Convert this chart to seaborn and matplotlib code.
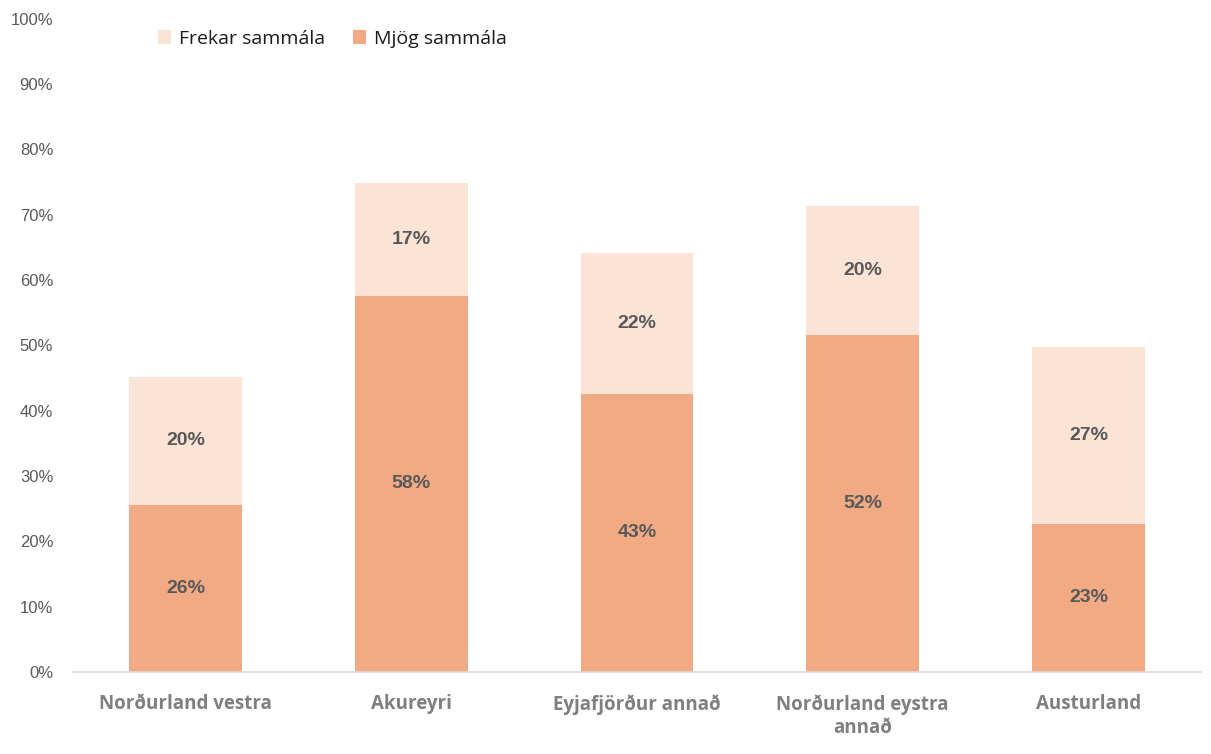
import pandas as pd
import matplotlib.pyplot as plt
import seaborn as sns

regions = ['Norðurland vestra', 'Akureyri', 'Eyjafjörður annað',
           'Norðurland eystra\nannað', 'Austurland']
mjog = [25.6, 57.6, 42.6, 51.6, 22.7]
frekar = [19.6, 17.3, 21.6, 19.7, 27.1]

df = pd.DataFrame({'region': regions, 'mjog': mjog, 'frekar': frekar})
df['total'] = df['mjog'] + df['frekar']

light = '#FBE3D6'
dark = '#F1AA84'

sns.set_style('white')
plt.rcParams['font.family'] = ['Liberation Sans', 'DejaVu Sans']

fig = plt.figure(figsize=(12.11, 7.54), dpi=100)
ax = fig.add_axes([0.060, 0.109, 0.932, 0.866])

sns.barplot(data=df, x='region', y='total', color=light, width=0.5,
            saturation=1, linewidth=0, ax=ax, label='Frekar sammála')
sns.barplot(data=df, x='region', y='mjog', color=dark, width=0.5,
            saturation=1, linewidth=0, ax=ax, label='Mjög sammála')

for i, row in df.iterrows():
    ax.text(i, row['mjog'] / 2, f"{row['mjog']:.0f}%", ha='center', va='center',
            fontsize=14, fontweight='bold', color='#595959')
    ax.text(i, row['mjog'] + row['frekar'] / 2, f"{row['frekar']:.0f}%",
            ha='center', va='center', fontsize=14, fontweight='bold', color='#595959')

ax.set_ylim(0, 100)
ax.set_xlim(-0.5, 4.5)
ax.set_yticks(range(0, 101, 10))
ax.set_yticklabels([f'{v}%' for v in range(0, 101, 10)])
ax.tick_params(axis='y', length=0, labelsize=12, labelcolor='#595959', pad=14)
ax.tick_params(axis='x', length=0, pad=16)
for lbl in ax.get_xticklabels():
    lbl.set_fontfamily(['Open Sans', 'DejaVu Sans'])
    lbl.set_fontweight('bold')
    lbl.set_fontsize(13.5)
    lbl.set_color('#7F7F7F')
ax.set_xlabel('')
ax.set_ylabel('')
for s in ['top', 'right', 'left']:
    ax.spines[s].set_visible(False)
ax.spines['bottom'].set_color('#D9D9D9')
ax.spines['bottom'].set_linewidth(1.2)

ax.legend(loc='upper left', bbox_to_anchor=(0.06, 1.01), ncol=2, frameon=False,
          handlelength=0.7, handleheight=0.7, handletextpad=0.4, columnspacing=1.4,
          labelcolor='#1a1a1a',
          prop={'family': ['Open Sans', 'DejaVu Sans'], 'size': 14})

fig.savefig('out.png', dpi=100)
